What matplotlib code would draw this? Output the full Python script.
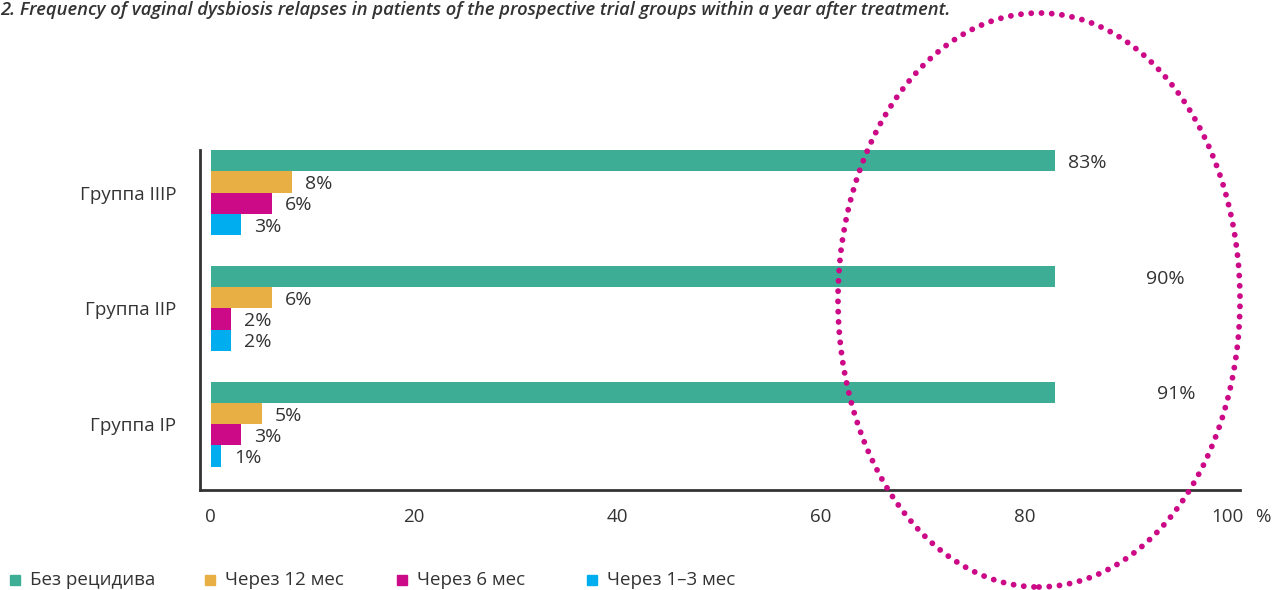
import matplotlib
matplotlib.use('Agg')
import matplotlib.pyplot as plt
from matplotlib.patches import Ellipse
from matplotlib.transforms import IdentityTransform
import numpy as np

plt.rcParams['font.family'] = ['Open Sans', 'DejaVu Sans']

# data
groups = ['Группа IIIP', 'Группа IIP', 'Группа IP']
series = ['Без рецидива', 'Через 12 мес', 'Через 6 мес', 'Через 1–3 мес']
no_relapse = [83, 90, 91]
after_12 = [8, 6, 5]
after_6 = [6, 2, 3]
after_1_3 = [3, 2, 1]
colors = ['#3DAE95', '#E8AF45', '#CC0A87', '#00AEEF']
xticks = [0, 20, 40, 60, 80, 100]
xtick_labels = ['0', '20', '40', '60', '80', '100']
x_unit = '%'
title = '2. Frequency of vaginal dysbiosis relapses in patients of the prospective trial groups within a year after treatment.'

bar_cap = 83  # long bars are drawn cut at this length in the original
txt = '#333333'

fig = plt.figure(figsize=(12.72, 5.9), dpi=100)
W, H = 1272, 590
ax = fig.add_axes([200 / W, 1 - 490 / H, 1040 / W, 340 / H])

all_vals = [no_relapse, after_12, after_6, after_1_3]
step = 5.45
for k, vals in enumerate(all_vals):
    y = [-(g * step + k + 0.5) for g in range(len(groups))]
    lens = np.minimum(vals, bar_cap)
    ax.barh(y, lens, height=1.0, left=0, color=colors[k], edgecolor='none')
    for yy, v in zip(y, vals):
        off = 1.3 if v <= bar_cap else 2.0
        ax.text(v + off, yy - 0.1, f'{v}%', va='center', ha='left',
                fontsize=14, color=txt)

ax.set_yticks([-(g * step + 2) for g in range(len(groups))])
ax.set_yticklabels(groups, fontsize=13.5, color=txt)
ax.set_xticks(xticks)
ax.set_xticklabels(xtick_labels, fontsize=13.5, color=txt)
ax.tick_params(length=0)
ax.tick_params(axis='y', pad=17)
ax.tick_params(axis='x', pad=13)
ax.set_xlim(-1.05, 101.2)
ax.set_ylim(-16.0, 0)
for s in ['top', 'right']:
    ax.spines[s].set_visible(False)
for s in ['left', 'bottom']:
    ax.spines[s].set_color('#333333')
    ax.spines[s].set_linewidth(2)
fig.text(1255 / W, 1 - 517 / H, x_unit, ha='left', va='center',
         fontsize=13.5, color=txt)

fig.text(0, 1 - 10 / H, title, ha='left', va='center', fontsize=13.2,
         style='italic', fontweight='semibold', color=txt)

# legend
leg_x = [10, 205, 397, 587]
for x, lab, c in zip(leg_x, series, colors):
    fig.patches.append(plt.Rectangle((x / W, 1 - 585 / H), 10 / W, 10 / H,
                                     transform=fig.transFigure, color=c))
    fig.text((x + 20) / W, 1 - 580 / H, lab, ha='left', va='center',
             fontsize=13.5, color=txt)

# dotted highlight ellipse
ell = Ellipse((1039, H - 300), 402, 574, transform=IdentityTransform(),
              fill=False, edgecolor='#CC0A87', linewidth=4.2,
              linestyle=(0, (0.01, 1.75)), capstyle='round')
fig.add_artist(ell)

fig.savefig('out.png', dpi=100)
